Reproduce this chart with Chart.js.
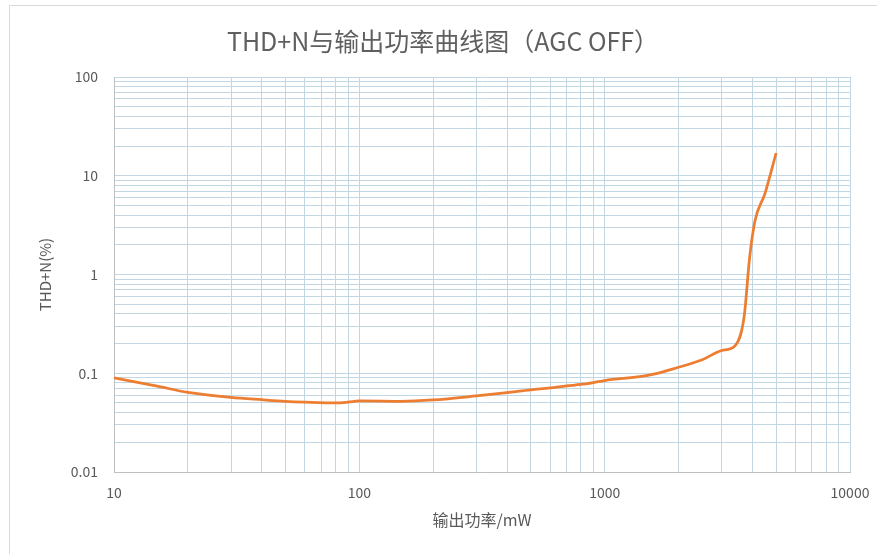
<!DOCTYPE html>
<html>
<head>
<meta charset="utf-8">
<script src="https://cdn.jsdelivr.net/npm/chart.js@4"></script>
<style>
  html, body { margin: 0; padding: 0; background: #ffffff; }
  #wrap { width: 877px; height: 554px; position: relative; }
</style>
</head>
<body>
<div id="wrap"><canvas id="c" width="877" height="554"></canvas></div>
<script>
// ---- data ----
const outputPower = [10, 15, 20, 30, 40, 50, 60, 80, 90, 100, 150, 200, 300, 400, 500, 600, 700, 800, 900, 1000, 1500, 2000, 2500, 3000, 3400, 3700, 3900, 4100, 4500, 5000];
const thdN =        [0.090, 0.074, 0.064, 0.057, 0.054, 0.052, 0.051, 0.050, 0.051, 0.0525, 0.052, 0.0537, 0.059, 0.0637, 0.068, 0.071, 0.0745, 0.077, 0.0805, 0.0844, 0.095, 0.115, 0.137, 0.170, 0.190, 0.37, 1.5, 3.5, 6.6, 17.0];
const xTickLabels = ['10', '100', '1000', '10000'];
const yTickLabels = ['0.01', '0.1', '1', '10', '100'];
const titleText = 'THD+N与输出功率曲线图（AGC OFF）';
const xTitle = '输出功率/mW';
const yTitle = 'THD+N(%)';
const seriesName = 'THD+N';

function decadeTicks(labels) {
  const decades = labels.map(Number);
  const out = [];
  for (let i = 0; i < decades.length; i++) {
    const d = decades[i];
    if (i === decades.length - 1) { out.push(d); break; }
    for (let k = 1; k <= 9; k++) out.push(+(d * k).toPrecision(6));
  }
  return out;
}
const xTicks = decadeTicks(xTickLabels);
const yTicks = decadeTicks(yTickLabels);

const points = outputPower.map((p, i) => ({ x: p, y: thdN[i] }));

const FONT = "'Noto Sans CJK SC', 'Noto Sans', sans-serif";
const GRID = '#c3d6e4';
const TXT = '#595959';

const frame = {
  id: 'frame',
  beforeDraw(chart) {
    const ctx = chart.ctx;
    ctx.save();
    ctx.fillStyle = '#ffffff';
    ctx.fillRect(0, 0, chart.width, chart.height);
    ctx.strokeStyle = '#d9d9d9';
    ctx.lineWidth = 1;
    ctx.beginPath();
    ctx.moveTo(9.5, chart.height);
    ctx.lineTo(9.5, 5.5);
    ctx.lineTo(chart.width, 5.5);
    ctx.stroke();
    ctx.restore();
  }
};

new Chart(document.getElementById('c'), {
  type: 'line',
  data: {
    datasets: [{
      label: seriesName,
      data: points,
      borderColor: '#ED7D31',
      backgroundColor: '#ED7D31',
      borderWidth: 2.75,
      pointRadius: 0,
      cubicInterpolationMode: 'monotone',
      fill: false
    }]
  },
  options: {
    responsive: false,
    animation: false,
    layout: { padding: { left: 36, right: 27, top: 0, bottom: 0 } },
    plugins: {
      legend: { display: false },
      tooltip: { enabled: false },
      title: {
        display: true,
        text: titleText,
        color: '#5f5f5f',
        font: { family: FONT, size: 25, weight: 'normal' },
        padding: { top: 26, bottom: 21 }
      }
    },
    scales: {
      x: {
        type: 'logarithmic',
        min: 10,
        max: 10000,
        afterBuildTicks(scale) { scale.ticks = xTicks.map(v => ({ value: v })); },
        afterFit(scale) { scale.height = 82; scale.paddingLeft = 0; scale.paddingRight = 0; },
        ticks: {
          autoSkip: false,
          maxRotation: 0,
          padding: 12,
          color: TXT,
          font: { family: FONT, size: 14 },
          callback(v) { const s = String(v); return xTickLabels.includes(s) ? s : ''; }
        },
        grid: { color: GRID, lineWidth: 1, drawTicks: false },
        border: { color: '#bfbfbf' },
        title: {
          display: true,
          text: xTitle,
          color: TXT,
          font: { family: FONT, size: 16 },
          padding: { top: 0, bottom: 24 }
        }
      },
      y: {
        type: 'logarithmic',
        min: 0.01,
        max: 100,
        afterBuildTicks(scale) { scale.ticks = yTicks.map(v => ({ value: v })); },
        afterFit(scale) { scale.width = 78; scale.paddingTop = 0; scale.paddingBottom = 0; },
        ticks: {
          autoSkip: false,
          padding: 16,
          color: TXT,
          font: { family: FONT, size: 14 },
          callback(v) { const s = String(v); return yTickLabels.includes(s) ? s : ''; }
        },
        grid: { color: GRID, lineWidth: 1, drawTicks: false },
        border: { color: '#bfbfbf' },
        title: {
          display: true,
          text: yTitle,
          color: TXT,
          font: { family: FONT, size: 15 },
          padding: { top: 0, bottom: 0 }
        }
      }
    }
  },
  plugins: [frame]
});
</script>
</body>
</html>
